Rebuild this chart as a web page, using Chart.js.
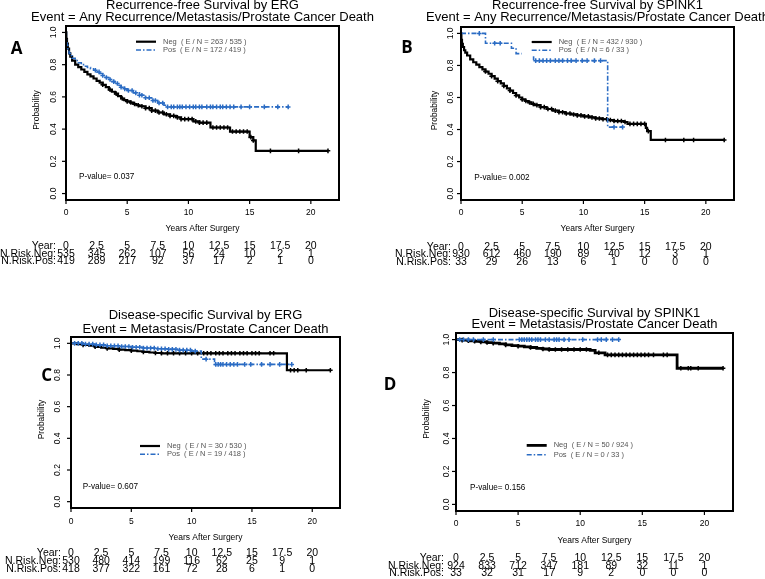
<!DOCTYPE html>
<html lang="en">
<head>
<meta charset="UTF-8">
<title>Survival by ERG and SPINK1</title>
<script src="https://cdn.jsdelivr.net/npm/chart.js"></script>
<style>
    body { margin: 0; background: #fff; }
    #page { position: relative; width: 765px; height: 579px; overflow: hidden; }
    #page canvas { position: absolute; }
</style>
</head>
<body>
<div id="page">
    <canvas id="cA"></canvas>
    <canvas id="cB"></canvas>
    <canvas id="cC"></canvas>
    <canvas id="cD"></canvas>
</div>
<script>
// ---- data ----
const riskYears = [0, 2.5, 5, 7.5, 10, 12.5, 15, 17.5, 20];
const xTicks = [0, 5, 10, 15, 20];
const yTicks = [0, 0.2, 0.4, 0.6, 0.8, 1.0];

// A: recurrence-free, ERG
const tA_neg = [0, 0.03, 0.08, 0.15, 0.25, 0.35, 0.5, 0.75, 1.0, 1.25, 1.5, 1.75, 2.0, 2.25, 2.5, 2.75, 3.0, 3.25, 3.5, 3.75, 4.0, 4.25, 4.5, 4.75, 5.0, 5.25, 5.5, 5.75, 6.0, 6.5, 7.0, 7.5, 8.0, 8.5, 9.0, 9.4, 10.4, 10.9, 11.8, 13.4, 15.0, 15.3, 15.5, 21.4];
const sA_neg = [1.0, 0.96, 0.93, 0.90, 0.87, 0.85, 0.825, 0.80, 0.785, 0.77, 0.755, 0.74, 0.727, 0.714, 0.70, 0.688, 0.675, 0.66, 0.645, 0.632, 0.62, 0.605, 0.59, 0.58, 0.572, 0.565, 0.556, 0.548, 0.542, 0.53, 0.515, 0.503, 0.492, 0.482, 0.473, 0.462, 0.448, 0.44, 0.41, 0.385, 0.35, 0.33, 0.265, 0.265];
const cA_neg = [3.0, 3.6, 4.1, 4.6, 5.0, 5.3, 5.6, 5.9, 6.2, 6.5, 6.8, 7.0, 7.3, 7.6, 7.9, 8.2, 8.5, 8.8, 9.1, 9.4, 9.7, 10.0, 10.3, 10.6, 10.9, 11.2, 11.5, 12.0, 12.3, 12.6, 12.9, 13.2, 13.6, 13.9, 14.2, 14.5, 14.8, 15.1, 15.3, 16.7, 19.0, 21.4];
const tA_pos = [0, 0.03, 0.08, 0.15, 0.25, 0.35, 0.5, 0.75, 1.0, 1.25, 1.5, 1.75, 2.0, 2.25, 2.5, 2.75, 3.0, 3.25, 3.5, 3.75, 4.0, 4.25, 4.5, 4.75, 5.0, 5.5, 6.0, 6.5, 7.0, 7.5, 8.0, 8.2, 18.15];
const sA_pos = [1.0, 0.95, 0.92, 0.89, 0.87, 0.855, 0.84, 0.826, 0.812, 0.80, 0.79, 0.782, 0.775, 0.765, 0.755, 0.745, 0.733, 0.72, 0.708, 0.695, 0.683, 0.672, 0.66, 0.65, 0.64, 0.625, 0.61, 0.595, 0.578, 0.562, 0.548, 0.538, 0.538];
const cA_pos = [2.4, 2.7, 3.0, 3.3, 3.6, 3.9, 4.2, 4.5, 4.8, 5.1, 5.4, 5.7, 6.0, 6.2, 6.5, 6.8, 7.1, 7.3, 7.6, 7.9, 8.3, 8.6, 8.8, 9.1, 9.3, 9.5, 9.8, 10.1, 10.4, 10.6, 10.9, 11.1, 11.5, 11.8, 12.0, 12.3, 12.6, 12.8, 13.1, 13.4, 13.7, 14.3, 15.0, 16.2, 17.3, 18.15];
const riskA_neg = [535, 345, 262, 107, 56, 24, 10, 2, 1];
const riskA_pos = [419, 289, 217, 92, 37, 17, 2, 1, 0];

// B: recurrence-free, SPINK1
const tB_neg = [0, 0.03, 0.08, 0.15, 0.25, 0.35, 0.5, 0.75, 1.0, 1.25, 1.5, 1.75, 2.0, 2.25, 2.5, 2.75, 3.0, 3.25, 3.5, 3.75, 4.0, 4.25, 4.5, 4.75, 5.0, 5.25, 5.5, 5.75, 6.0, 6.5, 7.0, 7.5, 8.0, 8.5, 9.0, 9.5, 10.0, 10.5, 11.0, 11.5, 12.0, 12.5, 13.3, 13.6, 15.1, 15.2, 15.5, 21.5];
const sB_neg = [1.0, 0.96, 0.935, 0.915, 0.895, 0.88, 0.862, 0.838, 0.82, 0.805, 0.79, 0.776, 0.762, 0.748, 0.733, 0.718, 0.702, 0.688, 0.672, 0.657, 0.643, 0.628, 0.613, 0.60, 0.588, 0.578, 0.569, 0.56, 0.552, 0.54, 0.528, 0.518, 0.508, 0.50, 0.494, 0.488, 0.482, 0.476, 0.469, 0.464, 0.459, 0.453, 0.447, 0.435, 0.41, 0.39, 0.335, 0.335];
const cB_neg = [2.0, 2.5, 3.0, 3.5, 4.0, 4.5, 5.0, 5.3, 5.6, 5.9, 6.2, 6.5, 6.8, 7.1, 7.4, 7.7, 8.0, 8.3, 8.6, 8.9, 9.2, 9.5, 9.8, 10.1, 10.4, 10.7, 11.0, 11.3, 11.6, 11.9, 12.2, 12.5, 12.8, 13.1, 13.4, 13.8, 14.1, 14.4, 14.7, 15.0, 15.3, 16.7, 18.2, 19.0, 21.5];
const tB_pos = [0, 2.0, 4.12, 4.5, 5.93, 11.98, 13.2];
const sB_pos = [1.0, 0.939, 0.907, 0.874, 0.830, 0.415, 0.415];
const cB_pos = [1.5, 2.75, 3.2, 6.1, 6.4, 6.7, 7.0, 7.3, 7.7, 8.0, 8.3, 8.7, 9.0, 9.4, 9.9, 10.3, 10.9, 11.4, 12.5, 13.2];
const riskB_neg = [930, 612, 460, 190, 89, 40, 12, 3, 1];
const riskB_pos = [33, 29, 26, 13, 6, 1, 0, 0, 0];

// C: disease-specific, ERG
const tC_neg = [0, 0.5, 1.0, 1.5, 2.0, 2.5, 3.0, 3.5, 4.0, 4.5, 5.0, 5.5, 6.0, 6.5, 7.0, 7.5, 17.9, 21.5];
const sC_neg = [1.0, 0.995, 0.99, 0.985, 0.978, 0.972, 0.968, 0.965, 0.96, 0.957, 0.954, 0.95, 0.946, 0.942, 0.939, 0.937, 0.83, 0.83];
const cC_neg = [1, 2, 3, 4, 5, 6, 7, 7.5, 8.0, 8.5, 9.0, 9.5, 10.0, 10.5, 11.0, 11.3, 11.6, 12.0, 12.3, 12.6, 13.0, 13.3, 13.6, 14.0, 14.3, 14.6, 15.0, 15.3, 15.6, 16.5, 16.8, 18.2, 18.5, 18.8, 19.5, 21.5];
const tC_pos = [0, 1.0, 2.0, 3.0, 4.0, 5.0, 6.0, 7.0, 8.0, 9.0, 10.0, 10.8, 11.9, 18.3];
const sC_pos = [1.0, 0.995, 0.99, 0.985, 0.98, 0.975, 0.97, 0.966, 0.962, 0.957, 0.951, 0.90, 0.867, 0.867];
const cC_pos = [0.3, 0.6, 0.9, 1.2, 1.5, 1.8, 2.1, 2.4, 2.7, 3.0, 3.3, 3.6, 3.9, 4.2, 4.5, 4.8, 5.1, 5.4, 5.7, 6.0, 6.3, 6.6, 6.9, 7.2, 7.5, 7.8, 8.1, 8.4, 8.7, 9.0, 9.3, 9.6, 9.9, 10.3, 11.2, 12.0, 12.2, 12.4, 12.6, 12.9, 13.2, 13.5, 13.8, 14.4, 14.9, 15.8, 16.5, 17.3, 18.3];
const riskC_neg = [530, 480, 414, 199, 116, 62, 25, 9, 1];
const riskC_pos = [418, 377, 322, 161, 72, 28, 6, 1, 0];

// D: disease-specific, SPINK1
const tD_neg = [0, 0.5, 1.0, 1.5, 2.0, 2.5, 3.0, 3.5, 4.0, 4.5, 5.0, 5.5, 6.0, 6.5, 7.0, 7.5, 10.8, 11.2, 12.0, 17.8, 21.5];
const sD_neg = [1.0, 0.997, 0.993, 0.99, 0.986, 0.982, 0.978, 0.974, 0.968, 0.964, 0.96, 0.956, 0.952, 0.947, 0.943, 0.94, 0.935, 0.92, 0.907, 0.826, 0.826];
const cD_neg = [0.5, 1.0, 1.5, 2.0, 2.5, 3.0, 4.0, 5.0, 6.0, 7.0, 7.5, 8.0, 8.5, 9.0, 9.5, 10.0, 10.5, 11.5, 12.2, 12.5, 12.8, 13.1, 13.4, 13.7, 14.0, 14.3, 14.6, 14.9, 15.2, 15.5, 15.9, 16.7, 17.0, 18.1, 18.7, 18.9, 19.5, 21.5];
const tD_pos = [0, 13.1];
const sD_pos = [1.0, 1.0];
const cD_pos = [0.3, 0.6, 1.0, 1.4, 2.2, 3.0, 5.1, 5.3, 5.5, 5.7, 5.9, 6.1, 6.4, 6.6, 6.8, 7.2, 7.5, 7.9, 8.1, 8.3, 8.7, 9.1, 10.2, 11.4, 11.7, 12.1, 12.6, 13.1];
const riskD_neg = [924, 833, 712, 347, 181, 89, 32, 11, 1];
const riskD_pos = [33, 32, 31, 17, 9, 2, 0, 0, 0];

const BLUE = '#2b6cc4';
const FONT = '"Liberation Sans", Arial, sans-serif';

// step-function lookup for censor marks
function survAt(t, times, surv) {
    let v = surv[0];
    for (let i = 0; i < times.length; i++) {
        if (times[i] <= t) v = surv[i];
    }
    return v;
}
function curve(times, surv) {
    return times.map((t, i) => ({ x: t, y: surv[i] }));
}
function marks(cens, times, surv) {
    return cens.map(t => ({ x: t, y: survAt(t, times, surv) }));
}

function panelPlugin(p) {
    return {
        id: 'rpanel' + p.letter,
        afterDatasetsDraw(chart) {
            const ctx = chart.ctx, a = chart.chartArea;
            const xs = chart.scales.x, ys = chart.scales.y;
            const cx = (a.left + a.right) / 2;
            ctx.save();

            // legend with white background
            ctx.font = '7.5px ' + FONT;
            const lx = a.left + p.leg.x, ly = a.top + p.leg.y;
            const w1 = ctx.measureText(p.legNeg).width, w2 = ctx.measureText(p.legPos).width;
            ctx.fillStyle = '#fff';
            ctx.fillRect(lx - 10, ly - 7, 20 + 8 + Math.max(w1, w2) + 14, p.leg.dy + 13);
            ctx.lineWidth = p.negWidth;
            ctx.strokeStyle = '#000';
            ctx.beginPath(); ctx.moveTo(lx, ly); ctx.lineTo(lx + 20, ly); ctx.stroke();
            ctx.lineWidth = 1.5;
            ctx.strokeStyle = BLUE;
            ctx.setLineDash([5, 2, 1.5, 2]);
            ctx.beginPath(); ctx.moveTo(lx, ly + p.leg.dy); ctx.lineTo(lx + 20, ly + p.leg.dy); ctx.stroke();
            ctx.setLineDash([]);
            ctx.fillStyle = '#555';
            ctx.textAlign = 'left'; ctx.textBaseline = 'middle';
            ctx.fillText(p.legNeg, lx + 27, ly);
            ctx.fillText(p.legPos, lx + 27, ly + p.leg.dy);

            // box
            ctx.strokeStyle = '#000';
            ctx.lineWidth = 2;
            ctx.strokeRect(a.left, a.top, a.right - a.left, a.bottom - a.top);

            // y axis
            ctx.lineWidth = 1.2;
            ctx.fillStyle = '#000';
            ctx.font = '8.5px ' + FONT;
            yTicks.forEach(v => {
                const y = ys.getPixelForValue(v);
                ctx.beginPath(); ctx.moveTo(a.left - 4, y); ctx.lineTo(a.left, y); ctx.stroke();
                ctx.save();
                ctx.translate(a.left - p.yLab, y);
                ctx.rotate(-Math.PI / 2);
                ctx.textAlign = 'center'; ctx.textBaseline = 'middle';
                ctx.fillText(v.toFixed(1), 0, 0);
                ctx.restore();
            });
            ctx.save();
            ctx.font = '8.5px ' + FONT;
            ctx.translate(a.left - p.yTitle, (a.top + a.bottom) / 2 - 3);
            ctx.rotate(-Math.PI / 2);
            ctx.textAlign = 'center'; ctx.textBaseline = 'middle';
            ctx.fillText('Probability', 0, 0);
            ctx.restore();

            // x axis
            ctx.font = '8.5px ' + FONT;
            ctx.textAlign = 'center'; ctx.textBaseline = 'middle';
            xTicks.forEach(v => {
                const x = xs.getPixelForValue(v);
                ctx.beginPath(); ctx.moveTo(x, a.bottom); ctx.lineTo(x, a.bottom + 4); ctx.stroke();
                ctx.fillText(String(v), x, a.bottom + p.xLab);
            });
            ctx.fillText('Years After Surgery', cx, a.bottom + p.xTitle);

            // p-value
            ctx.font = '8.2px ' + FONT;
            ctx.textAlign = 'left';
            ctx.fillText(p.pval, a.left + p.pPos.x, a.bottom - p.pPos.y);

            // number at risk table
            ctx.font = '10.5px ' + FONT;
            const rows = [['Year:', riskYears.map(String)], ['N.Risk.Neg:', p.riskNeg.map(String)], ['N.Risk.Pos:', p.riskPos.map(String)]];
            rows.forEach((r, i) => {
                const y = a.bottom + p.risk.y + i * p.risk.dy;
                ctx.textAlign = 'right';
                ctx.fillText(r[0], a.left - p.risk.lab, y);
                ctx.textAlign = 'center';
                r[1].forEach((s, j) => ctx.fillText(s, xs.getPixelForValue(riskYears[j]), y));
            });

            // titles
            ctx.font = '13px ' + FONT;
            ctx.textAlign = 'center';
            ctx.fillText(p.title1, cx, a.top - p.t1);
            ctx.fillText(p.title2, cx, a.top - p.t2);

            // panel letter
            ctx.font = 'bold 17px "Open Sans", ' + FONT;
            ctx.fillText(p.letter, a.left - p.lab.x, a.top + p.lab.y);
            ctx.restore();
        }
    };
}

function makePanel(p) {
    const cv = document.getElementById(p.canvas);
    cv.width = p.w; cv.height = p.h;
    cv.style.left = p.left + 'px'; cv.style.top = p.top + 'px';
    cv.style.width = p.w + 'px'; cv.style.height = p.h + 'px';
    const pad = {
        left: p.box[0] - p.left,
        top: p.box[1] - p.top,
        right: p.left + p.w - p.box[2],
        bottom: p.top + p.h - p.box[3]
    };
    return new Chart(cv.getContext('2d'), {
        type: 'scatter',
        data: {
            datasets: [
                { data: curve(p.tPos, p.sPos), showLine: true, stepped: 'before', borderColor: BLUE, borderWidth: 1.6, borderDash: [5, 2, 1.5, 2], pointRadius: 0, fill: false, order: 1 },
                { data: marks(p.cPos, p.tPos, p.sPos), showLine: false, pointStyle: 'cross', pointRadius: 2.3, borderColor: BLUE, borderWidth: 1.5, order: 1 },
                { data: curve(p.tNeg, p.sNeg), showLine: true, stepped: 'before', borderColor: '#000', borderWidth: p.negWidth, pointRadius: 0, fill: false, order: 2 },
                { data: marks(p.cNeg, p.tNeg, p.sNeg), showLine: false, pointStyle: 'cross', pointRadius: 2.3, borderColor: '#000', borderWidth: 1.5, order: 2 }
            ]
        },
        options: {
            responsive: false,
            animation: false,
            layout: { padding: pad },
            plugins: { legend: { display: false }, tooltip: { enabled: false } },
            scales: {
                x: { type: 'linear', min: 0, max: 22.3, display: false },
                y: { type: 'linear', min: -0.04, max: 1.04, display: false }
            }
        },
        plugins: [panelPlugin(p)]
    });
}

makePanel({
    canvas: 'cA', letter: 'A', left: 0, top: 0, w: 380, h: 290, box: [66, 26, 339, 200],
    tNeg: tA_neg, sNeg: sA_neg, cNeg: cA_neg, tPos: tA_pos, sPos: sA_pos, cPos: cA_pos,
    riskNeg: riskA_neg, riskPos: riskA_pos, negWidth: 2.2,
    title1: 'Recurrence-free Survival by ERG',
    title2: 'Event = Any Recurrence/Metastasis/Prostate Cancer Death',
    legNeg: 'Neg  ( E / N = 263 / 535 )', legPos: 'Pos  ( E / N = 172 / 419 )',
    pval: 'P-value= 0.037',
    t1: 21, t2: 8.7, lab: { x: 49.3, y: 23 }, leg: { x: 70, y: 15.7, dy: 8.3 },
    pPos: { x: 13, y: 23.3 }, yLab: 12.7, yTitle: 29, xLab: 12.3, xTitle: 29,
    risk: { y: 46, dy: 7.8, lab: 10 }
});
makePanel({
    canvas: 'cB', letter: 'B', left: 380, top: 0, w: 385, h: 290, box: [461, 27, 734, 200],
    tNeg: tB_neg, sNeg: sB_neg, cNeg: cB_neg, tPos: tB_pos, sPos: sB_pos, cPos: cB_pos,
    riskNeg: riskB_neg, riskPos: riskB_pos, negWidth: 2.2,
    title1: 'Recurrence-free Survival by SPINK1',
    title2: 'Event = Any Recurrence/Metastasis/Prostate Cancer Death',
    legNeg: 'Neg  ( E / N = 432 / 930 )', legPos: 'Pos  ( E / N = 6 / 33 )',
    pval: 'P-value= 0.002',
    t1: 22, t2: 9.7, lab: { x: 54, y: 21 }, leg: { x: 70.7, y: 15, dy: 8.3 },
    pPos: { x: 13.3, y: 22.3 }, yLab: 10, yTitle: 26.7, xLab: 12.3, xTitle: 29,
    risk: { y: 46.7, dy: 7.5, lab: 10 }
});
makePanel({
    canvas: 'cC', letter: 'C', left: 0, top: 290, w: 380, h: 289, box: [71, 337, 340, 508],
    tNeg: tC_neg, sNeg: sC_neg, cNeg: cC_neg, tPos: tC_pos, sPos: sC_pos, cPos: cC_pos,
    riskNeg: riskC_neg, riskPos: riskC_pos, negWidth: 2.2,
    title1: 'Disease-specific Survival by ERG',
    title2: 'Event = Metastasis/Prostate Cancer Death',
    legNeg: 'Neg  ( E / N = 30 / 530 )', legPos: 'Pos  ( E / N = 19 / 418 )',
    pval: 'P-value= 0.607',
    t1: 22, t2: 8, lab: { x: 24.3, y: 39.3 }, leg: { x: 69, y: 109, dy: 8.3 },
    pPos: { x: 11.7, y: 21.7 }, yLab: 13, yTitle: 29.3, xLab: 14, xTitle: 29.6,
    risk: { y: 45.6, dy: 8, lab: 10 }
});
makePanel({
    canvas: 'cD', letter: 'D', left: 380, top: 290, w: 385, h: 289, box: [456, 333, 733, 511],
    tNeg: tD_neg, sNeg: sD_neg, cNeg: cD_neg, tPos: tD_pos, sPos: sD_pos, cPos: cD_pos,
    riskNeg: riskD_neg, riskPos: riskD_pos, negWidth: 2.8,
    title1: 'Disease-specific Survival by SPINK1',
    title2: 'Event = Metastasis/Prostate Cancer Death',
    legNeg: 'Neg  ( E / N = 50 / 924 )', legPos: 'Pos  ( E / N = 0 / 33 )',
    pval: 'P-value= 0.156',
    t1: 20, t2: 8.3, lab: { x: 66, y: 52.2 }, leg: { x: 70.7, y: 112.4, dy: 9.3 },
    pPos: { x: 14, y: 23 }, yLab: 9.3, yTitle: 29.3, xLab: 12.6, xTitle: 30,
    risk: { y: 47.6, dy: 7.5, lab: 12 }
});
</script>
</body>
</html>
